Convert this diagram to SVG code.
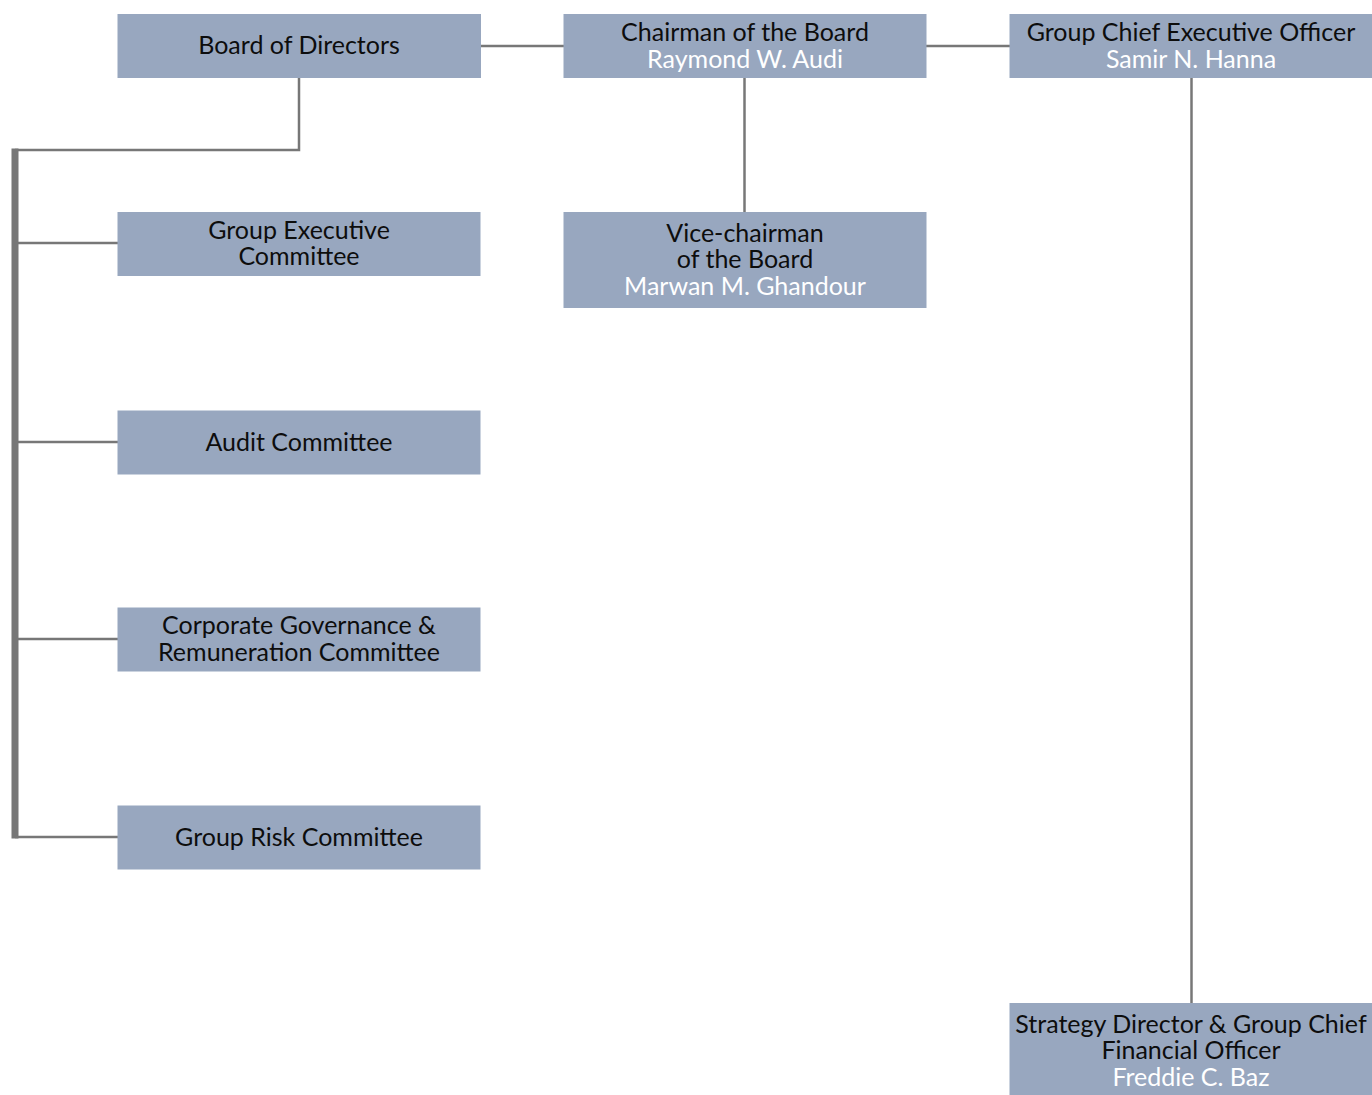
<svg xmlns="http://www.w3.org/2000/svg" width="1372" height="1095" viewBox="0 0 1372 1095">
  <style>
    .box { fill: #98a7bf; }
    .t { font-family: Lato, "Open Sans", sans-serif; font-size: 25px; text-anchor: middle; fill: #0d0d0d; }
    .n { fill: #ffffff; }
    .ln { stroke: #777777; stroke-width: 2.5; fill: none; }
    .bar { stroke: #777777; stroke-width: 7; fill: none; }
  </style>
  <rect width="1372" height="1095" fill="#ffffff"/>

  <g id="connectors">
    <line class="ln" x1="481" y1="46" x2="564" y2="46"/>
    <line class="ln" x1="926" y1="46" x2="1010" y2="46"/>
    <line class="ln" x1="744.5" y1="78" x2="744.5" y2="212"/>
    <line class="ln" x1="1191.5" y1="78" x2="1191.5" y2="1003"/>
    <polyline class="ln" points="299,78 299,150 15,150"/>
    <line class="bar" x1="15" y1="148.5" x2="15" y2="838.5"/>
    <line class="ln" x1="15" y1="243" x2="118" y2="243"/>
    <line class="ln" x1="15" y1="442" x2="118" y2="442"/>
    <line class="ln" x1="15" y1="639" x2="118" y2="639"/>
    <line class="ln" x1="15" y1="837" x2="118" y2="837"/>
  </g>

  <g id="board">
    <rect class="box" x="117.5" y="14" width="363.5" height="64"/>
    <text class="t" x="299" y="54">Board of Directors</text>
  </g>

  <g id="chairman">
    <rect class="box" x="563.5" y="14" width="363" height="64"/>
    <text class="t" x="745" y="41">Chairman of the Board</text>
    <text class="t n" x="745" y="68">Raymond W. Audi</text>
  </g>

  <g id="ceo">
    <rect class="box" x="1009.5" y="14" width="362.5" height="64"/>
    <text class="t" x="1191" y="41">Group Chief Executive Officer</text>
    <text class="t n" x="1191" y="68">Samir N. Hanna</text>
  </g>

  <g id="vice-chairman">
    <rect class="box" x="563.5" y="212" width="363" height="96"/>
    <text class="t" x="745" y="242">Vice-chairman</text>
    <text class="t" x="745" y="268">of the Board</text>
    <text class="t n" x="745" y="295">Marwan M. Ghandour</text>
  </g>

  <g id="group-executive-committee">
    <rect class="box" x="117.5" y="212" width="363" height="64"/>
    <text class="t" x="299" y="239">Group Executive</text>
    <text class="t" x="299" y="265">Committee</text>
  </g>

  <g id="audit-committee">
    <rect class="box" x="117.5" y="410.5" width="363" height="64"/>
    <text class="t" x="299" y="451">Audit Committee</text>
  </g>

  <g id="governance-committee">
    <rect class="box" x="117.5" y="607.5" width="363" height="64"/>
    <text class="t" x="299" y="634">Corporate Governance &amp;</text>
    <text class="t" x="299" y="661">Remuneration Committee</text>
  </g>

  <g id="risk-committee">
    <rect class="box" x="117.5" y="805.5" width="363" height="64"/>
    <text class="t" x="299" y="846">Group Risk Committee</text>
  </g>

  <g id="cfo">
    <rect class="box" x="1009.5" y="1003" width="362.5" height="92"/>
    <text class="t" x="1191" y="1033">Strategy Director &amp; Group Chief</text>
    <text class="t" x="1191" y="1059">Financial Officer</text>
    <text class="t n" x="1191" y="1086">Freddie C. Baz</text>
  </g>
</svg>
